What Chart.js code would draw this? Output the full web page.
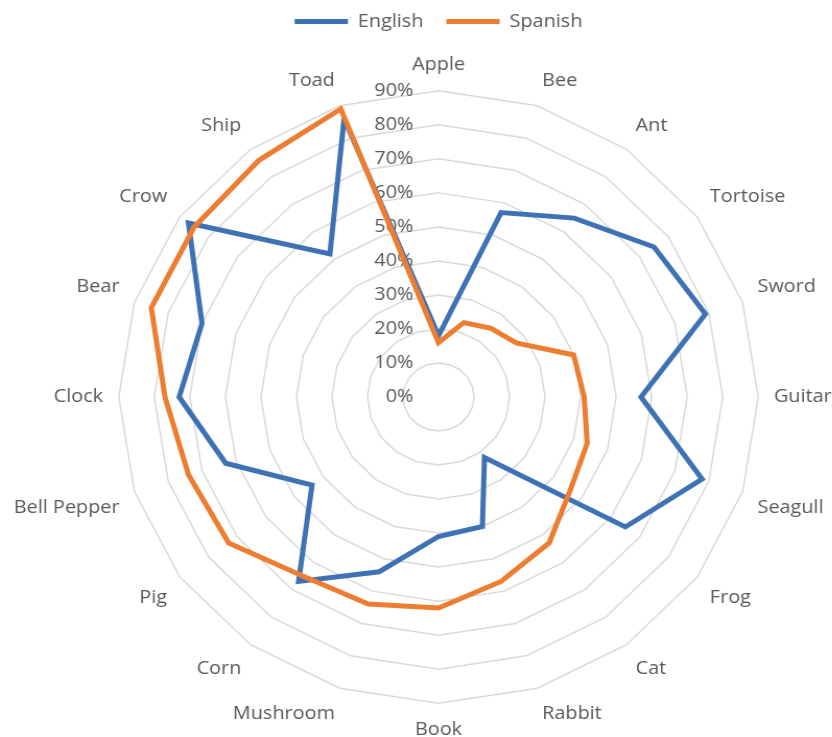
<!DOCTYPE html>
<html>
<head>
<meta charset="utf-8">
<script src="https://cdn.jsdelivr.net/npm/chart.js@4"></script>
<style>
  html, body { margin: 0; padding: 0; background: #ffffff; overflow: hidden; }
  #wrap { position: relative; width: 832px; height: 737px; overflow: hidden; }
  /* the original is a little wider than it is tall, so the canvas is stretched 4.4% sideways */
  #myChart { position: absolute; left: -22.5px; top: 0; }
</style>
</head>
<body>
<div id="wrap"><canvas id="myChart" width="882" height="742" style="width:921px;height:742px"></canvas></div>
<script>
const categories = ['Apple', 'Bee', 'Ant', 'Tortoise', 'Sword', 'Guitar', 'Seagull', 'Frog', 'Cat', 'Rabbit',
  'Book', 'Mushroom', 'Corn', 'Pig', 'Bell Pepper', 'Clock', 'Bear', 'Crow', 'Ship', 'Toad'];
const english = [18, 57, 65, 75, 79, 57, 78, 65, 22, 40, 41, 54, 67, 44, 63, 73, 70, 87, 52, 86];
const spanish = [16, 23, 25, 27, 40, 41, 44, 46, 53, 57, 62, 64, 65, 73, 74, 77, 85, 85, 86, 89];
const tickValues = [0, 10, 20, 30, 40, 50, 60, 70, 80, 90];

const textColor = '#595959';
const fontFamily = '"Open Sans", "Noto Sans", sans-serif';

// percent labels sit just left of the vertical axis, like the original
const tickLabelPlugin = {
  id: 'tickLabels',
  beforeDatasetsDraw(chart) {
    const s = chart.scales.r;
    const ctx = chart.ctx;
    ctx.save();
    ctx.font = '19px ' + fontFamily;
    ctx.fillStyle = textColor;
    ctx.textAlign = 'right';
    ctx.textBaseline = 'middle';
    tickValues.forEach(v => {
      const p = s.getPointPositionForValue(0, v);
      ctx.fillText(v + '%', p.x - 24, p.y);
    });
    ctx.restore();
  }
};

const ctx = document.getElementById('myChart').getContext('2d');
new Chart(ctx, {
  type: 'radar',
  data: {
    labels: categories,
    datasets: [
      {
        label: 'English',
        data: english,
        borderColor: '#3F72B5',
        backgroundColor: '#3F72B5',
        borderWidth: 5,
        pointRadius: 0,
        fill: false,
        order: 1
      },
      {
        label: 'Spanish',
        data: spanish,
        borderColor: '#ED7D31',
        backgroundColor: '#ED7D31',
        borderWidth: 5,
        pointRadius: 0,
        fill: false,
        order: 0
      }
    ]
  },
  options: {
    responsive: false,
    animation: false,
    layout: { padding: { top: -10, bottom: 0, left: 0, right: 0 } },
    plugins: {
      legend: {
        position: 'top',
        labels: {
          usePointStyle: true,
          pointStyle: 'line',
          pointStyleWidth: 51,
          color: textColor,
          font: { family: fontFamily, size: 19 },
          padding: 22,
          sort: (a, b) => a.datasetIndex - b.datasetIndex
        }
      },
      // empty title, only used as a gap between the legend and the chart
      title: {
        display: true,
        text: '',
        weight: 500,
        font: { size: 10 },
        padding: 0
      },
      tooltip: { enabled: false }
    },
    scales: {
      r: {
        min: 0,
        max: 90,
        ticks: { stepSize: 10, display: false },
        angleLines: { display: false },
        grid: { color: '#D9D9D9', lineWidth: 1.5 },
        pointLabels: {
          color: textColor,
          font: { family: fontFamily, size: 19 },
          padding: 15
        }
      }
    }
  },
  plugins: [tickLabelPlugin]
});
</script>
</body>
</html>
